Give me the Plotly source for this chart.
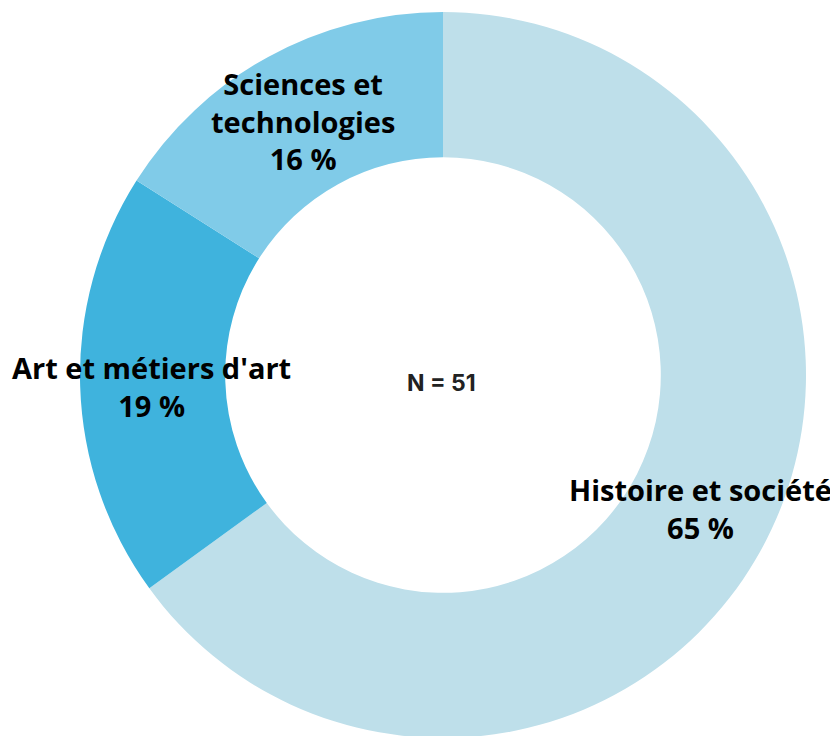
import plotly.graph_objects as go

categories = ["Histoire et société", "Art et métiers d'art", "Sciences et technologies"]
values = [65, 19, 16]
colors = ["#BEDFEA", "#3FB3DD", "#80CBE8"]
label_lines = ["Histoire et société", "Art et métiers d'art", "Sciences et<br>technologies"]
n_total = 51

W, H = 838, 736
OFF = 8  # page body margin offset
fig = go.Figure(go.Pie(
    labels=categories, values=values, sort=False, direction="clockwise", rotation=0,
    hole=0.60, marker=dict(colors=colors, line=dict(width=0)),
    textinfo="none", hoverinfo="label+percent", showlegend=False,
    domain=dict(x=[(80 - OFF) / W, (806 - OFF) / W], y=[6 / H, 1 - 4 / H]),
))

# label anchor positions (screen pixels from top-left)
pos = [(700, 508), (151, 386), (303, 121)]
for lab, v, (px, py) in zip(label_lines, values, pos):
    fig.add_annotation(
        x=(px - OFF) / W, y=1 - (py - OFF) / H, xref="paper", yref="paper", showarrow=False,
        text=f"{lab}<br>{v} %", xanchor="center", yanchor="middle",
        font=dict(family="Open Sans", size=29, color="#000000", weight=700), align="center",
    )
fig.add_annotation(
    x=(441 - OFF) / W, y=1 - (383 - OFF) / H, xref="paper", yref="paper", showarrow=False,
    text=f"N = {n_total}", font=dict(family="Inter", size=23, color="#222222", weight=700),
)

fig.update_layout(width=W, height=H, margin=dict(l=0, r=0, t=0, b=0),
                  paper_bgcolor="white", plot_bgcolor="white")
fig.write_html("out.html")
